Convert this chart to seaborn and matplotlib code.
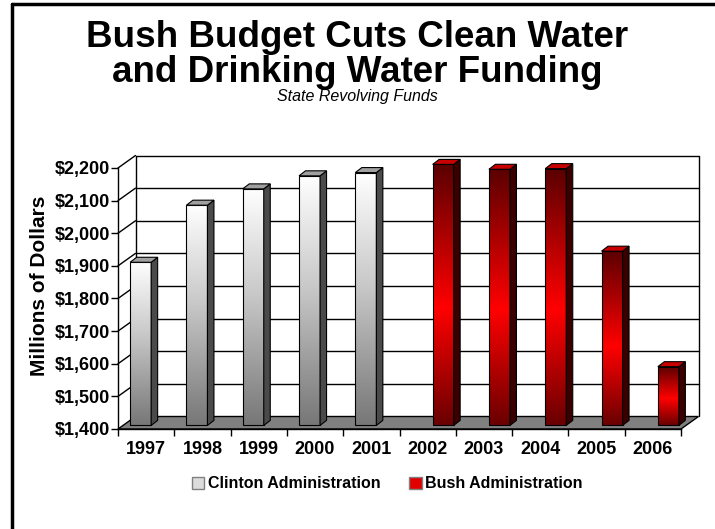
import numpy as np
import pandas as pd
import matplotlib
matplotlib.use("Agg")
import matplotlib.pyplot as plt
from matplotlib.colors import LinearSegmentedColormap
from matplotlib.patches import Polygon, Patch
from matplotlib.lines import Line2D
import seaborn as sns

# State Revolving Fund appropriations (millions of dollars)
years = ["1997", "1998", "1999", "2000", "2001", "2002", "2003", "2004", "2005", "2006"]
administration = ["Clinton Administration"] * 5 + ["Bush Administration"] * 5
funding = [1900, 2075, 2125, 2165, 2175, 2200, 2185, 2187, 1934, 1580]
admin_order = ["Clinton Administration", "Bush Administration"]
y_ticks = [1400, 1500, 1600, 1700, 1800, 1900, 2000, 2100, 2200]

BASE, TOP = y_ticks[0], y_ticks[-1]

sns.set_style("white")
plt.rcParams["font.family"] = ["Liberation Sans", "DejaVu Sans"]
plt.rcParams["text.color"] = "black"
plt.rcParams["xtick.color"] = "black"
plt.rcParams["ytick.color"] = "black"
plt.rcParams["axes.labelcolor"] = "black"

W, H = 715, 529
fig = plt.figure(figsize=(W / 100, H / 100), dpi=100)
fig.patch.set_facecolor("white")

# front plane of the pseudo-3D box, in pixels
ax_l, ax_r, ax_t, ax_b = 118, 681, 168, 429
ax = fig.add_axes([ax_l / W, 1 - ax_b / H, (ax_r - ax_l) / W, (ax_b - ax_t) / H])
ax.set_facecolor("none")

df = pd.DataFrame({"year": years, "admin": administration, "funding": funding})
sns.barplot(data=df, x="year", y="funding", hue="admin", hue_order=admin_order,
            order=years, width=0.746, dodge=True, legend=False, ax=ax,
            saturation=1, errorbar=None)

n = len(years)
x0, x1 = -0.5, n - 0.5
ux = n / (ax_r - ax_l)            # data units per pixel, x
uy = (TOP - BASE) / (ax_b - ax_t)  # data units per pixel, y


def depth(px, py):
    return px * ux, py * uy


wall_dx, wall_dy = depth(17.5, 12.5)
front_dx, front_dy = depth(5.0, 3.6)
back_dx, back_dy = depth(11.5, 8.6)

# back wall + left wall gridlines
for v in y_ticks[1:]:
    ax.plot([x0 + wall_dx, x1 + wall_dx], [v + wall_dy] * 2, color="black",
            lw=1, clip_on=False, zorder=0.5)
    ax.plot([x0, x0 + wall_dx], [v, v + wall_dy], color="black", lw=1,
            clip_on=False, zorder=0.5)
for xv in (x0 + wall_dx, x1 + wall_dx):
    ax.plot([xv, xv], [BASE + wall_dy, TOP + wall_dy], color="black", lw=1,
            clip_on=False, zorder=0.5)

# floor
floor = Polygon([(x0, BASE), (x1, BASE), (x1 + wall_dx, BASE + wall_dy),
                 (x0 + wall_dx, BASE + wall_dy)], closed=True, fc="#808080",
                ec="black", lw=1, clip_on=False, zorder=1)
ax.add_patch(floor)

grad = np.linspace(0, 1, 256).reshape(-1, 1)
front_cmaps = [
    LinearSegmentedColormap.from_list("clinton", [(0, "#777777"), (0.55, "#c8c8c8"), (1, "#ffffff")]),
    LinearSegmentedColormap.from_list("bush", [(0, "#6a0000"), (0.45, "#ff0000"), (1, "#5a0000")]),
]
side_colors = ["#4a4a4a", "#3a0000"]
top_colors = ["#a0a0a0", "#c80000"]
sx, sy = back_dx - front_dx, back_dy - front_dy

for i, cont in enumerate(ax.containers):
    for bar in cont:
        value = bar.get_height()
        if not np.isfinite(value) or value <= 0:
            continue
        bx = bar.get_x() + front_dx
        bw = bar.get_width()
        y0 = BASE + front_dy
        y1 = value + front_dy
        bar.set_x(bx)
        bar.set_y(y0)
        bar.set_height(value - BASE)
        bar.set_facecolor("none")
        bar.set_edgecolor("black")
        bar.set_linewidth(0.8)
        bar.set_clip_on(False)
        bar.set_zorder(4)
        ax.imshow(grad, extent=[bx, bx + bw, y0, y1], origin="lower", aspect="auto",
                  cmap=front_cmaps[i], interpolation="bilinear", clip_on=False, zorder=3)
        ax.add_patch(Polygon([(bx + bw, y0), (bx + bw + sx, y0 + sy), (bx + bw + sx, y1 + sy),
                              (bx + bw, y1)], closed=True, fc=side_colors[i], ec="black",
                             lw=0.8, clip_on=False, zorder=4))
        ax.add_patch(Polygon([(bx, y1), (bx + bw, y1), (bx + bw + sx, y1 + sy), (bx + sx, y1 + sy)],
                             closed=True, fc=top_colors[i], ec="black", lw=0.8,
                             clip_on=False, zorder=4))

ax.set_xlim(x0, x1)
ax.set_ylim(BASE, TOP)

ax.set_yticks(y_ticks)
ax.set_yticklabels([f"${v:,}" for v in y_ticks], fontweight="bold", fontsize=13)
ax.tick_params(axis="y", which="major", left=True, length=5, width=1, color="black",
               pad=1, direction="out")
ax.set_xticks(range(n))
ax.set_xticklabels(years, fontweight="bold", fontsize=13)
ax.tick_params(axis="x", which="major", length=0, pad=9)
ax.set_xticks(np.arange(x0, n, 1), minor=True)
ax.tick_params(axis="x", which="minor", bottom=True, length=5, width=1, color="black",
               direction="out")
ax.set_xlabel("")
ax.set_ylabel("")
for s in ("top", "right"):
    ax.spines[s].set_visible(False)
for s in ("left", "bottom"):
    ax.spines[s].set_color("black")
    ax.spines[s].set_linewidth(1)
    ax.spines[s].set_zorder(5)

fig.text(40 / W, 1 - 286 / H, "Millions of Dollars", rotation=90, ha="center",
         va="center", fontsize=15, fontweight="bold")

fig.text(0.5, 1 - 47 / H, "Bush Budget Cuts Clean Water", ha="center", va="baseline",
         fontsize=26.5, fontweight="bold")
fig.text(0.5, 1 - 82 / H, "and Drinking Water Funding", ha="center", va="baseline",
         fontsize=26.5, fontweight="bold")
fig.text(0.5, 1 - 101 / H, "State Revolving Funds", ha="center", va="baseline",
         fontsize=11.5, fontstyle="italic")

handles = [Patch(fc="#dcdcdc", ec="#808080"), Patch(fc="#e00000", ec="#808080")]
fig.legend(handles=handles, labels=admin_order, loc="center",
           bbox_to_anchor=(387 / W, 1 - 484 / H), ncol=2, frameon=False,
           prop=dict(weight="bold", size=11.5), handlelength=0.8, handleheight=0.8,
           columnspacing=1.8, handletextpad=0.2)

# outer frame
fig.add_artist(Line2D([12 / W, 12 / W], [0, 1 - 4 / H], transform=fig.transFigure,
                      color="black", lw=2.5))
fig.add_artist(Line2D([12 / W, 1], [1 - 4 / H, 1 - 4 / H], transform=fig.transFigure,
                      color="black", lw=2.5))

fig.savefig("out.png", dpi=100)
